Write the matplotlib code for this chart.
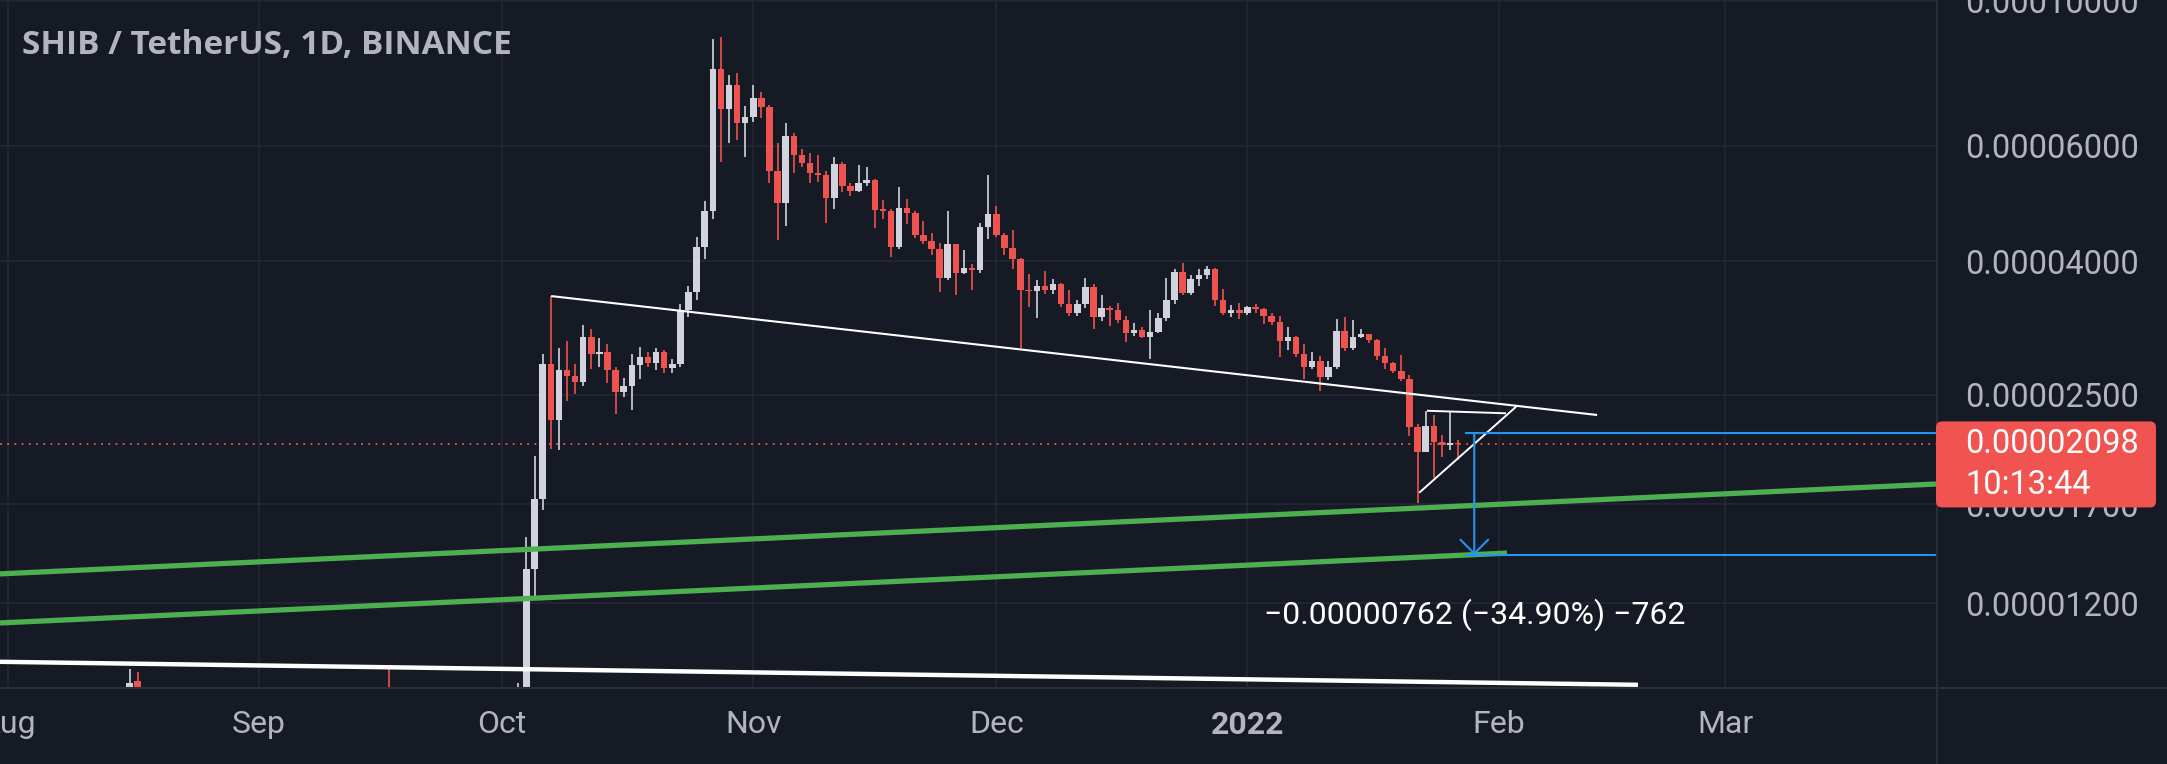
import matplotlib
matplotlib.use("Agg")
import matplotlib.pyplot as plt
import matplotlib.dates as mdates
from matplotlib.patches import FancyBboxPatch, FancyArrowPatch
from matplotlib.lines import Line2D
from matplotlib.ticker import NullLocator
from matplotlib.transforms import IdentityTransform
import numpy as np
import pandas as pd

# candles, prices in units of 1e-5 USDT
early_dates = ["2021-08-16", "2021-08-17", "2021-09-17", "2021-10-03"]
early_open = [0.870, 0.911, 0.840, 0.780]
early_high = [0.951, 0.941, 0.957, 0.905]
early_low = [0.850, 0.830, 0.780, 0.760]
early_close = [0.907, 0.860, 0.800, 0.820]

first_day = "2021-10-04"
opens = [
    0.820, 1.351, 1.731, 2.788, 2.286, 2.725, 2.667, 2.614, 3.059, 2.887, 2.900, 2.725, 2.524, 2.575,
    2.770, 2.852, 2.792, 2.909, 2.746, 2.788, 3.373, 3.592, 4.209, 4.774, 7.858, 6.827, 7.438, 6.499,
    6.653, 7.097, 6.876, 5.500, 4.903, 6.215, 5.812, 5.658, 5.462, 5.420, 4.991, 5.632, 5.211, 5.126,
    5.273, 5.323, 4.790, 4.780, 4.209, 4.818, 4.735, 4.386, 4.298, 4.171, 3.765, 4.244, 3.840, 3.901,
    3.880, 4.516,
    4.723, 4.386, 4.185, 4.026, 3.613, 3.600, 3.664, 3.613, 3.690, 3.440, 3.329, 3.440, 3.655, 3.283,
    3.389, 3.369, 3.251, 3.103, 3.139, 3.066, 3.120, 3.271, 3.488, 3.854, 3.580, 3.752, 3.809, 3.886,
    3.488, 3.337, 3.369,
    3.329, 3.401, 3.375, 3.298, 3.232, 3.023, 3.066, 2.885, 2.752, 2.817, 2.657, 2.752, 3.131, 2.943,
    3.066, 3.095, 3.030, 2.866, 2.798, 2.720, 2.638, 2.228, 2.044, 2.242, 2.118, 2.093, 2.110,
]
highs = [
    1.516, 2.017, 2.887, 3.537, 2.945, 3.022, 2.788, 3.198, 3.155, 3.055, 2.986, 2.758, 2.655, 2.887,
    2.953, 2.909, 2.945, 2.930, 2.830, 3.442, 3.664, 4.355, 4.944, 8.746, 8.817, 7.705, 7.767, 6.908,
    7.438, 7.264, 6.930, 6.070, 6.499, 6.287, 5.931, 5.861, 5.812, 5.500, 5.778, 5.677, 5.262, 5.612,
    5.578, 5.350, 4.961, 4.800, 5.188, 4.973, 4.774, 4.613, 4.421, 4.259, 4.774, 4.250, 4.160, 3.960,
    4.580, 5.418,
    4.858, 4.420, 4.464, 4.040, 3.822, 3.743, 3.863, 3.750, 3.700, 3.613, 3.488, 3.765, 3.686, 3.550,
    3.420, 3.456, 3.300, 3.214, 3.176, 3.369, 3.337, 3.765, 3.886, 3.979, 3.809, 3.886, 3.932, 3.900,
    3.622, 3.429, 3.456,
    3.420, 3.440, 3.390, 3.337, 3.298, 3.169, 3.073, 2.988, 2.908, 2.866, 2.817, 3.260, 3.290, 3.251,
    3.147, 3.100, 3.040, 2.943, 2.800, 2.875, 2.679, 2.254, 2.364, 2.327, 2.168, 2.354, 2.131,
]
lows = [
    0.800, 1.219, 1.667, 2.064, 2.060, 2.448, 2.509, 2.575, 2.736, 2.758, 2.603, 2.339, 2.478, 2.368,
    2.643, 2.758, 2.725, 2.698, 2.700, 2.758, 3.287, 3.488, 4.026, 4.640, 5.677, 6.070, 6.128, 5.778,
    6.536, 6.615, 5.273, 4.310, 4.528, 5.451, 5.578, 5.262, 5.291, 4.581, 4.802, 5.108, 5.031, 5.100,
    5.211, 4.491, 4.635, 4.054, 4.171, 4.560, 4.335, 4.248, 4.087, 3.592, 3.740, 3.550, 3.820, 3.613,
    3.831, 4.320,
    4.349, 4.087, 3.886, 2.943, 3.408, 3.271, 3.563, 3.563, 3.408, 3.300, 3.298, 3.389, 3.147, 3.244,
    3.184, 3.220, 3.013, 3.073, 3.050, 2.831, 3.110, 3.240, 3.440, 3.550, 3.550, 3.664, 3.752, 3.416,
    3.310, 3.283, 3.260,
    3.310, 3.329, 3.207, 3.190, 2.858, 2.926, 2.852, 2.638, 2.740, 2.535, 2.632, 2.740, 2.915, 2.930,
    3.050, 2.995, 2.825, 2.733, 2.700, 2.625, 2.161, 1.707, 2.040, 1.862, 2.009, 2.057, 1.986,
]
closes = [
    1.351, 1.731, 2.788, 2.286, 2.725, 2.667, 2.614, 3.059, 2.887, 2.900, 2.725, 2.524, 2.575, 2.770,
    2.852, 2.792, 2.909, 2.746, 2.788, 3.373, 3.592, 4.209, 4.774, 7.858, 6.827, 7.438, 6.499, 6.653,
    7.097, 6.876, 5.500, 4.903, 6.215, 5.812, 5.658, 5.462, 5.420, 4.991, 5.632, 5.211, 5.126, 5.273,
    5.323, 4.790, 4.780, 4.209, 4.818, 4.735, 4.386, 4.298, 4.171, 3.765, 4.244, 3.840, 3.901, 3.880,
    4.516, 4.723,
    4.386, 4.185, 4.026, 3.613, 3.600, 3.664, 3.613, 3.690, 3.440, 3.329, 3.440, 3.655, 3.283, 3.389,
    3.369, 3.251, 3.103, 3.139, 3.066, 3.120, 3.271, 3.488, 3.854, 3.580, 3.752, 3.809, 3.886, 3.488,
    3.337, 3.369, 3.329,
    3.401, 3.375, 3.298, 3.232, 3.023, 3.066, 2.885, 2.752, 2.817, 2.657, 2.752, 3.131, 2.943, 3.066,
    3.095, 3.030, 2.866, 2.798, 2.720, 2.638, 2.228, 2.044, 2.242, 2.118, 2.093, 2.110, 2.098,
]

price_ticks = [0.0001, 0.00006, 0.00004, 0.000025, 0.000017, 0.000012]
month_ticks = ["2021-08-01", "2021-09-01", "2021-10-01", "2021-11-01",
               "2021-12-01", "2022-01-01", "2022-02-01", "2022-03-01"]
month_labels = ["Aug", "Sep", "Oct", "Nov", "Dec", "2022", "Feb", "Mar"]

# user drawings as (date, price)
trend_line = [("2021-10-07 01:00", 3.537e-5), ("2022-02-13 04:00", 2.327e-5)]
green_upper = [("2021-07-31", 1.330e-5), ("2022-03-27", 1.825e-5)]
green_lower = [("2021-07-31", 1.119e-5), ("2022-02-02 01:00", 1.431e-5)]
base_line = [("2021-07-31", 9.76e-6), ("2022-02-18 05:00", 9.00e-6)]
tri_top = [("2022-01-23 04:00", 2.362e-5), ("2022-02-01 22:00", 2.341e-5)]
tri_low = [("2022-01-22 05:00", 1.770e-5), ("2022-02-03 04:00", 2.396e-5)]
measure_start = "2022-01-28"
measure_day = "2022-01-29"
measure_from = 2.1834e-5
measure_to = 1.4214e-5
measure_label_price = 1.151e-5
last_price = 2.098e-5
countdown = "10:13:44"

BG = "#161A25"
GRID = "#242834"
TXT = "#B2B5BE"
RED = "#EF5350"
WHITE = "#D1D4DC"
W, H = 2167, 764


def dn(s):
    return mdates.date2num(pd.Timestamp(s))


def main():
    fig = plt.figure(figsize=(W / 100, H / 100), dpi=100, facecolor=BG)
    ax = fig.add_axes([0, 76 / H, 1936 / W, 688 / H])
    ax.set_facecolor(BG)
    ax.set_yscale("log")

    dates = list(pd.to_datetime(early_dates)) + list(pd.date_range(first_day, periods=len(opens)))
    x = mdates.date2num(dates)
    o = np.array(early_open + opens) * 1e-5
    h = np.array(early_high + highs) * 1e-5
    l = np.array(early_low + lows) * 1e-5
    c = np.array(early_close + closes) * 1e-5
    cols = np.where(c >= o, WHITE, RED)

    ax.vlines(x, l, h, colors=cols, lw=1.2, zorder=3)
    bot = np.minimum(o, c)
    top = np.maximum(np.maximum(o, c), bot * 1.004)
    ax.bar(x, top - bot, bottom=bot, width=0.8, color=cols, lw=0, zorder=3)

    def seg(pts, **kw):
        ax.plot([dn(p[0]) for p in pts], [p[1] for p in pts], solid_capstyle="butt", **kw)

    seg(green_upper, color="#4CAF50", lw=3.8, zorder=4)
    seg(green_lower, color="#4CAF50", lw=3.8, zorder=4)
    seg(base_line, color="white", lw=3.2, zorder=4)
    seg(trend_line, color="white", lw=1.5, zorder=4)
    seg(tri_top, color="white", lw=1.4, zorder=4)
    seg(tri_low, color="white", lw=1.4, zorder=4)

    x0 = dn("2021-08-01")
    xl = (x0 - 0.99, x0 + 238.0)

    # current price line
    ax.axhline(last_price, color=RED, lw=1.3, ls=(0, (1, 3)), zorder=2)

    # price range measurement
    xs = dn(measure_start)
    xm = dn(measure_day)
    ax.plot([xs, xl[1] + 5], [measure_from, measure_from], color="#2196F3", lw=1.5, zorder=5)
    ax.plot([xs, xl[1] + 5], [measure_to, measure_to], color="#2196F3", lw=1.5, zorder=5)
    ax.add_patch(FancyArrowPatch((xm, measure_from), (xm, measure_to),
                                 arrowstyle="->,head_length=0.5,head_width=0.5",
                                 mutation_scale=20, color="#2196F3", lw=1.5,
                                 shrinkA=0, shrinkB=0, zorder=5))
    diff = measure_to - measure_from
    lbl = f"{diff:.8f} ({diff / measure_from * 100:.2f}%) {diff * 1e8:.0f}".replace("-", "\u2212")
    ax.text(xm, measure_label_price, lbl, ha="center", va="center", color="white",
            fontsize=23, family="Roboto", zorder=6)

    ax.set_xlim(*xl)
    ax.set_ylim(8.90e-6, 1.003e-4)

    ax.set_xticks([dn(m) for m in month_ticks])
    ax.set_xticklabels(month_labels)
    ax.set_yticks(price_ticks)
    ax.set_yticklabels([f"{t:.8f}" for t in price_ticks])
    ax.yaxis.set_minor_locator(NullLocator())
    ax.xaxis.set_minor_locator(NullLocator())
    ax.yaxis.tick_right()
    ax.tick_params(axis="x", length=0, pad=16, labelsize=23, labelcolor=TXT)
    ax.tick_params(axis="y", length=0, pad=21, labelsize=23.5, labelcolor=TXT)
    for t in ax.get_xticklabels() + ax.get_yticklabels():
        t.set_family("Roboto")
    ax.get_xticklabels()[5].set_fontweight("bold")
    ax.grid(True, color=GRID, lw=1.2, zorder=0)
    ax.set_axisbelow(True)
    for s in ax.spines.values():
        s.set_visible(False)

    # scale separators
    fig.add_artist(Line2D([1937 / W, 1937 / W], [0, 1], transform=fig.transFigure,
                          color="#2A2E39", lw=1.5))
    fig.add_artist(Line2D([0, 1], [76 / H, 76 / H], transform=fig.transFigure,
                          color="#2A2E39", lw=1.5))

    fig.text(22 / W, 1 - 45 / H, "SHIB / TetherUS, 1D, BINANCE", va="center", ha="left",
             fontsize=24, fontweight="bold", family="Open Sans", color=TXT)

    # last price tag
    yp = ax.transData.transform((xl[0], last_price))[1]
    tag = FancyBboxPatch((1936, yp - 63), 220, 86, boxstyle="round,pad=0,rounding_size=6",
                         transform=IdentityTransform(), facecolor="#F05350", edgecolor="none",
                         zorder=10)
    fig.add_artist(tag)
    fig.text(1965 / W, yp / H, f"{last_price:.8f}", va="center", ha="left", color="white",
             fontsize=23.5, family="Roboto", zorder=11)
    fig.text(1965 / W, (yp - 41) / H, countdown, va="center", ha="left", color="white",
             fontsize=23.5, family="Roboto", zorder=11)

    fig.savefig("out.png", dpi=100, facecolor=BG)


if __name__ == "__main__":
    main()
